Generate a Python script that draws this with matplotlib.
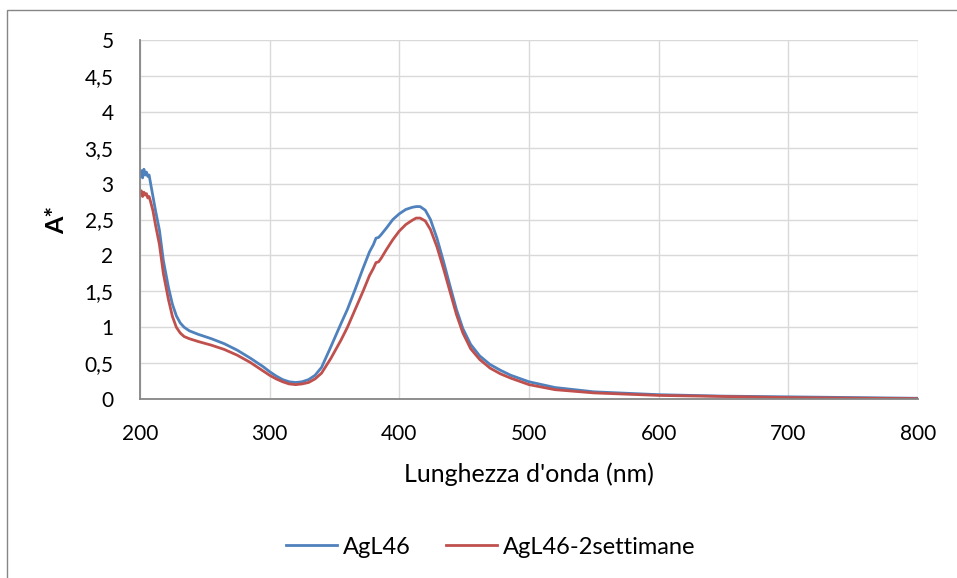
import numpy as np
import matplotlib.pyplot as plt
from matplotlib.patches import Rectangle
from matplotlib.ticker import FuncFormatter

plt.rcParams['font.family'] = ['Lato', 'DejaVu Sans']

# wavelength (nm) and absorbance
wl_a = [200, 201, 202, 203, 204, 205, 206, 207, 208, 210, 212, 215, 218, 222, 225, 228, 231, 234,
        238, 245, 255, 265, 275, 285, 295, 300, 305, 310, 315, 320, 325, 330, 335, 340,
        347, 355, 360, 366, 372, 377, 380, 382, 384, 386, 390, 395, 400, 405, 410, 413, 416, 420,
        424, 429, 434, 439, 444, 449, 455, 462, 470, 478, 486, 500, 520, 550, 600, 650, 700, 750, 800]
abs_a = [3.10, 3.18, 3.08, 3.20, 3.12, 3.16, 3.10, 3.12, 3.02, 2.82, 2.62, 2.35, 1.93, 1.55, 1.32, 1.16, 1.06, 1.00,
         0.95, 0.90, 0.84, 0.77, 0.68, 0.57, 0.45, 0.38, 0.32, 0.27, 0.24, 0.23, 0.24, 0.27, 0.33, 0.44,
         0.72, 1.05, 1.25, 1.53, 1.82, 2.05, 2.15, 2.24, 2.25, 2.29, 2.38, 2.50, 2.58, 2.64, 2.67, 2.68, 2.68, 2.63,
         2.50, 2.24, 1.92, 1.58, 1.25, 0.98, 0.76, 0.60, 0.48, 0.40, 0.33, 0.24, 0.16, 0.10, 0.06, 0.04, 0.03, 0.02, 0.01]

wl_b = [200, 201, 202, 203, 204, 205, 206, 207, 208, 210, 212, 215, 218, 222, 225, 228, 231, 234,
        238, 245, 255, 265, 275, 285, 295, 300, 305, 310, 315, 320, 325, 330, 335, 340,
        347, 355, 360, 366, 372, 377, 380, 382, 384, 386, 390, 395, 400, 405, 410, 413, 416, 420,
        424, 429, 434, 439, 444, 449, 455, 462, 470, 478, 486, 500, 520, 550, 600, 650, 700, 750, 800]
abs_b = [2.86, 2.90, 2.82, 2.88, 2.84, 2.86, 2.80, 2.82, 2.76, 2.62, 2.42, 2.15, 1.75, 1.38, 1.15, 1.00, 0.92, 0.87,
         0.84, 0.80, 0.75, 0.69, 0.61, 0.51, 0.39, 0.33, 0.28, 0.24, 0.21, 0.20, 0.21, 0.23, 0.28, 0.36,
         0.56, 0.82, 1.00, 1.25, 1.50, 1.72, 1.82, 1.90, 1.91, 1.96, 2.08, 2.22, 2.34, 2.43, 2.49, 2.52, 2.52, 2.48,
         2.36, 2.12, 1.82, 1.50, 1.18, 0.92, 0.70, 0.55, 0.43, 0.35, 0.29, 0.20, 0.13, 0.085, 0.05, 0.035, 0.02, 0.012, 0.005]

labels = ["AgL46", "AgL46-2settimane"]
colors = ["#4F81BD", "#C0504D"]

fig = plt.figure(figsize=(9.57, 5.78), dpi=100)
ax = fig.add_axes([140/957, 1-399/578, (918-140)/957, (399-40)/578])

ax.plot(wl_a, abs_a, color=colors[0], lw=2.0, label=labels[0])
ax.plot(wl_b, abs_b, color=colors[1], lw=2.0, label=labels[1])

ax.set_xlim(200, 800)
ax.set_ylim(0, 5)
ax.set_xticks(np.arange(200, 801, 100))
ax.set_yticks(np.arange(0, 5.01, 0.5))
ax.yaxis.set_major_formatter(FuncFormatter(lambda v, p: ('%g' % v).replace('.', ',')))
ax.grid(True, color='#D9D9D9', lw=1.0)
ax.set_axisbelow(True)
ax.tick_params(length=0, labelsize=15)
ax.tick_params(axis='x', pad=18)
ax.tick_params(axis='y', pad=19)

for s in ['top', 'right']:
    ax.spines[s].set_visible(False)
for s in ['left', 'bottom']:
    ax.spines[s].set_color('#868686')
    ax.spines[s].set_linewidth(1.3)

ax.set_xlabel("Lunghezza d'onda (nm)", fontsize=18)
ax.xaxis.set_label_coords(0.5, -0.178)
ax.set_ylabel("A*", fontsize=18, fontweight='bold')
ax.yaxis.set_label_coords(-0.092, 0.5)

fig.legend(loc='center', bbox_to_anchor=(491/957, 1-547/578), ncol=2, frameon=False,
           fontsize=17, handlelength=2.15, columnspacing=1.5, handletextpad=0.25)

fig.patches.append(Rectangle((7/957, -0.1), 1.2, 1-10/578+0.1, transform=fig.transFigure,
                             fill=False, edgecolor='#868686', lw=1.0))

fig.savefig('out.png', dpi=100)
